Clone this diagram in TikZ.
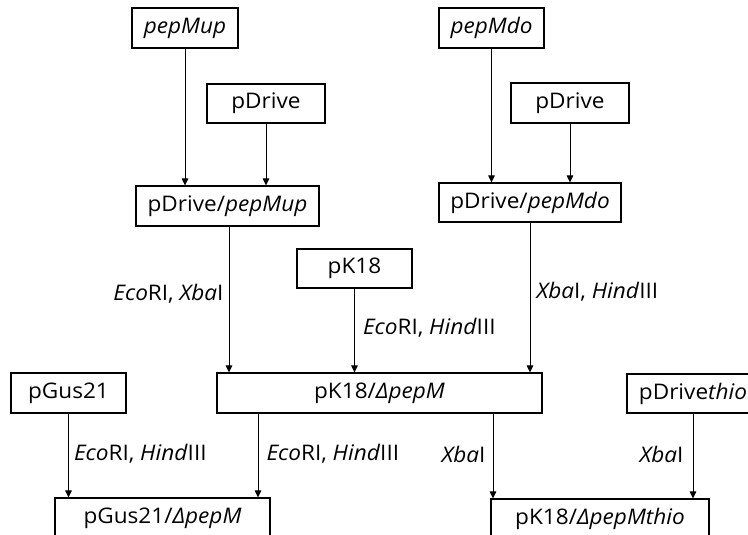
\documentclass[tikz,border=0pt]{standalone}
\usepackage{fontspec}
\setmainfont{Open Sans}[FakeStretch=1.05]
\usetikzlibrary{arrows.meta}
\begin{document}
\begin{tikzpicture}[x=1pt,y=-1pt,
  box/.style={draw, line width=1.1pt, inner sep=0pt, font=\fontsize{21.5}{25}\selectfont},
  lbl/.style={inner sep=0pt, font=\fontsize{21.5}{25}\selectfont},
  arr/.style={line width=1pt, -{Triangle[length=7pt,width=6.5pt]}}]
\useasboundingbox (0,0) rectangle (748,535);
% nodes
\node[box, minimum width=106pt, minimum height=40pt] (pepMup) at (185,28) {\textit{pepMup}};
\node[box, minimum width=118pt, minimum height=39pt] (pDriveL) at (266,103.5) {pDrive};
\node[box, minimum width=183pt, minimum height=40pt] (pDpepMup) at (227.5,206) {pDrive/\textit{pepMup}};
\node[box, minimum width=105pt, minimum height=40pt] (pepMdo) at (491.5,28) {\textit{pepMdo}};
\node[box, minimum width=118pt, minimum height=40pt] (pDriveR) at (570,103) {pDrive};
\node[box, minimum width=182pt, minimum height=39pt] (pDpepMdo) at (530,202.5) {pDrive/\textit{pepMdo}};
\node[box, minimum width=115pt, minimum height=39pt] (pK18) at (354.5,268.5) {pK18};
\node[box, minimum width=325pt, minimum height=40pt] (pK18d) at (379.5,393) {pK18/\textit{ΔpepM}};
\node[box, minimum width=115pt, minimum height=40pt] (pGus21) at (68.5,393) {pGus21};
\node[box, minimum width=132pt, minimum height=39pt] (pDthio) at (693,393.5) {pDrive\textit{thio}};
\node[box, minimum width=215pt, minimum height=40pt] (pGusd) at (162.5,518) {pGus21/\textit{ΔpepM}};
\node[box, minimum width=218pt, minimum height=40pt] (pK18thio) at (600,519) {pK18/\textit{ΔpepMthio}};
% connectors
\draw[arr] (pepMup.south) -- (pepMup.south |- pDpepMup.north);
\draw[arr] (pDriveL.south) -- (pDriveL.south |- pDpepMup.north);
\draw[arr] (pepMdo.south) -- (pepMdo.south |- pDpepMdo.north);
\draw[arr] (pDriveR.south) -- (pDriveR.south |- pDpepMdo.north);
\draw[arr] ([xshift=1.5pt]pDpepMup.south) -- ([xshift=1.5pt]pDpepMup.south |- pK18d.north)
  node[lbl, left=5pt, pos=0.46] {\textit{Eco}RI, \textit{Xba}I};
\draw[arr] (pK18.south) -- (pK18.south |- pK18d.north)
  node[lbl, right=8pt, pos=0.47] {\textit{Eco}RI, \textit{Hind}III};
\draw[arr] (pDpepMdo.south) -- (pDpepMdo.south |- pK18d.north)
  node[lbl, right=6pt, pos=0.46] {\textit{Xba}I, \textit{Hind}III};
\draw[arr] (pGus21.south) -- (pGus21.south |- pGusd.north)
  node[lbl, right=5pt, pos=0.48] {\textit{Eco}RI, \textit{Hind}III};
\draw[arr] ([xshift=-121.5pt]pK18d.south) -- ([xshift=-121.5pt]pK18d.south |- pGusd.north)
  node[lbl, right=8pt, pos=0.48] {\textit{Eco}RI, \textit{Hind}III};
\draw[arr] ([xshift=113.5pt]pK18d.south) -- ([xshift=113.5pt]pK18d.south |- pK18thio.north)
  node[lbl, left=7pt, pos=0.48] {\textit{Xba}I};
\draw[arr] (pDthio.south) -- (pDthio.south |- pK18thio.north)
  node[lbl, left=9pt, pos=0.48] {\textit{Xba}I};
\end{tikzpicture}
\end{document}
